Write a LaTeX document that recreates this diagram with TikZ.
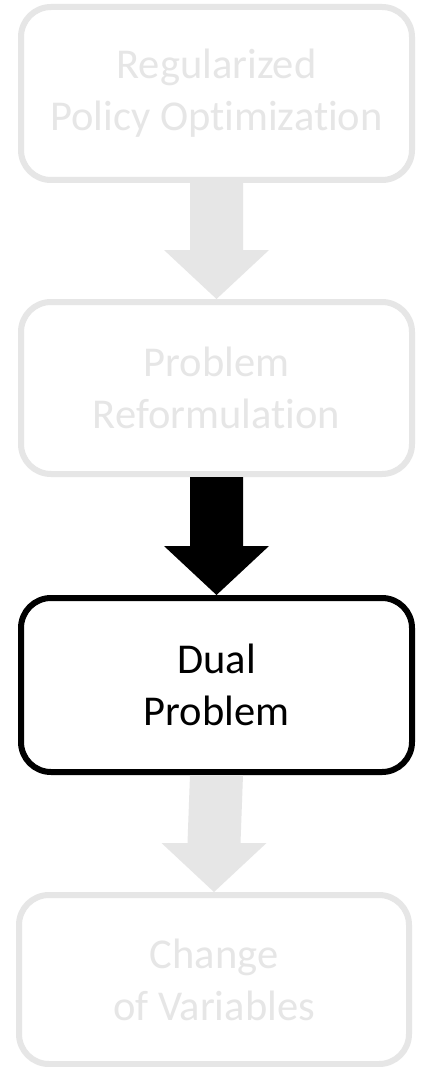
\documentclass[tikz,border=0pt]{standalone}
\usepackage{fontspec}
\setmainfont{Carlito}[Ligatures=NoCommon]
\usetikzlibrary{calc}
\definecolor{faded}{RGB}{230,230,230}
\tikzset{
  stage/.style={draw, rounded corners=30pt, line width=6pt, fill=white,
    minimum width=391pt, minimum height=173pt, align=center,
    font=\fontsize{42.5}{52}\selectfont, inner sep=0pt},
  dim/.style={stage, draw=faded, text=faded},
  focus/.style={stage, draw=black, text=black},
}
% block arrow from the bottom of one stage to the top of the next
\newcommand{\blockarrow}[3]{%
  \fill[#1] ($(#2.south)+(-26.5pt,0)$) -- ($(#2.south)+(26.5pt,0)$)
    -- ($(#3.north)+(26.5pt,49pt)$) -- ($(#3.north)+(52.5pt,49pt)$)
    -- (#3.north) -- ($(#3.north)+(-52.5pt,49pt)$)
    -- ($(#3.north)+(-26.5pt,49pt)$) -- cycle;}
\begin{document}
\begin{tikzpicture}[x=1pt,y=1pt]
  \fill[white] (0,0) rectangle (428,-1067);
  \useasboundingbox (0,0) rectangle (428,-1067);

  \node[dim] (rpo) at (216.5,-93.5) {Regularized\\Policy Optimization};
  \node[dim, minimum height=172pt] (ref) at (216.5,-388) {Problem\\Reformulation};
  \node[focus, minimum height=174pt] (dual) at (216.5,-685) {Dual\\Problem};
  \node[dim, minimum width=390pt, minimum height=169pt] (cov) at (214,-979.5) {Change\\of Variables};

  \blockarrow{faded}{rpo}{ref}
  \blockarrow{black}{ref}{dual}
  \blockarrow{faded}{dual}{cov}
\end{tikzpicture}
\end{document}
